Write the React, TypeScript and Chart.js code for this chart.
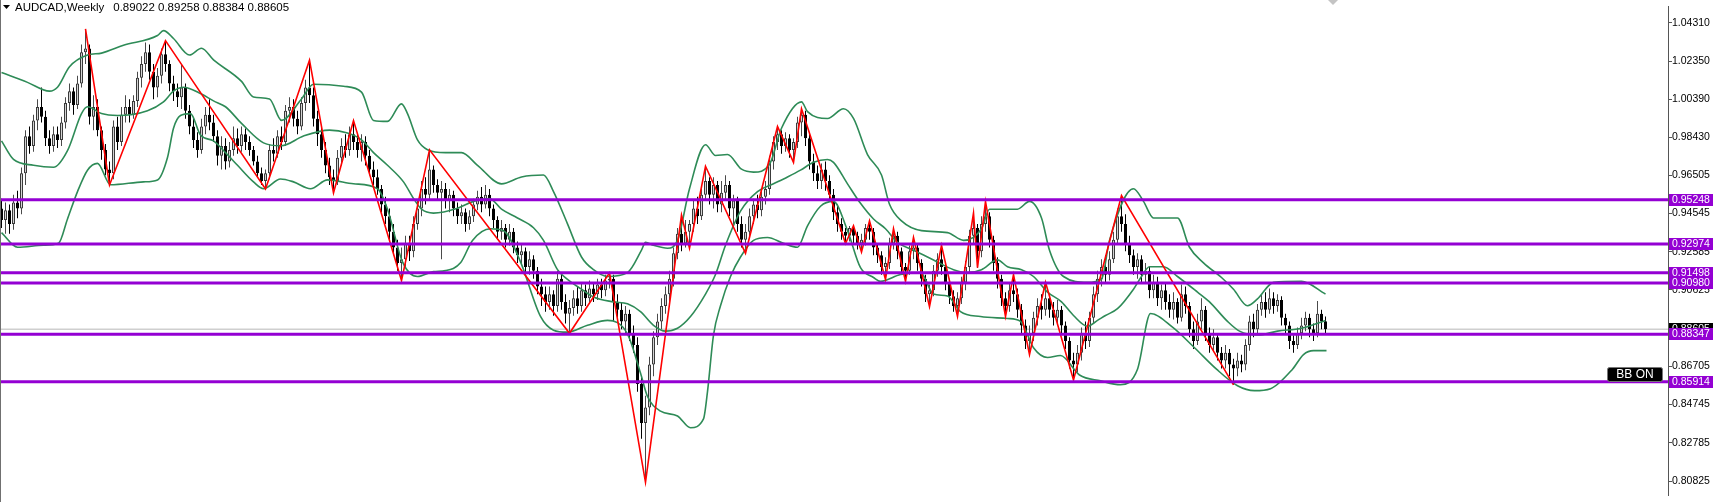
import React, { useEffect, useRef } from "react";
import { Chart, registerables } from "chart.js";
Chart.register(...registerables);

// ---- weekly candles (index 0 = oldest visible week) ----
const opens = [
  0.948,0.942,0.947,0.940,0.951,0.948,0.966,0.985,0.980,0.993,
  1.000,0.995,0.984,0.980,0.986,0.983,0.992,1.002,1.008,1.001,
  1.012,1.028,1.030,0.995,1.000,0.988,0.978,0.968,0.966,0.990,
  0.982,0.996,1.000,0.996,1.003,1.015,1.022,1.028,1.018,1.010,
  1.016,1.027,1.022,1.012,1.008,1.005,1.010,0.998,0.990,0.983,
  0.978,0.990,0.996,0.992,0.985,0.975,0.980,0.972,0.978,0.984,
  0.980,0.986,0.982,0.978,0.972,0.966,0.962,0.966,0.978,0.976,
  0.985,0.982,0.998,1.000,0.994,0.990,1.002,1.010,1.006,0.994,
  0.986,0.978,0.970,0.964,0.962,0.974,0.980,0.978,0.986,0.982,
  0.978,0.982,0.975,0.968,0.964,0.958,0.950,0.944,0.936,0.928,
  0.920,0.922,0.930,0.926,0.940,0.948,0.958,0.955,0.968,0.960,
  0.956,0.958,0.952,0.955,0.948,0.944,0.946,0.940,0.944,0.950,
  0.954,0.950,0.955,0.948,0.942,0.936,0.938,0.932,0.936,0.928,
  0.924,0.926,0.918,0.922,0.916,0.908,0.904,0.900,0.904,0.898,
  0.912,0.900,0.894,0.897,0.902,0.898,0.906,0.902,0.907,0.904,
  0.909,0.906,0.911,0.912,0.900,0.896,0.890,0.894,0.884,0.878,
  0.858,0.838,0.846,0.868,0.882,0.890,0.898,0.904,0.912,0.925,
  0.935,0.930,0.936,0.940,0.948,0.944,0.955,0.962,0.955,0.960,
  0.950,0.956,0.960,0.948,0.952,0.940,0.932,0.936,0.944,0.950,
  0.947,0.954,0.958,0.972,0.982,0.986,0.980,0.984,0.978,0.982,
  0.992,0.996,0.984,0.972,0.966,0.962,0.968,0.962,0.955,0.946,
  0.940,0.936,0.934,0.938,0.934,0.930,0.932,0.938,0.936,0.928,
  0.924,0.918,0.920,0.930,0.934,0.926,0.918,0.916,0.926,0.928,
  0.920,0.912,0.904,0.906,0.916,0.922,0.918,0.910,0.903,0.898,
  0.902,0.910,0.918,0.934,0.938,0.926,0.940,0.944,0.932,0.920,
  0.912,0.902,0.898,0.906,0.904,0.896,0.888,0.880,0.884,0.892,
  0.898,0.896,0.902,0.896,0.892,0.896,0.888,0.880,0.870,0.868,
  0.874,0.884,0.880,0.892,0.904,0.912,0.918,0.914,0.922,0.932,
  0.944,0.940,0.930,0.924,0.918,0.922,0.914,0.916,0.906,0.910,
  0.902,0.906,0.900,0.896,0.900,0.892,0.904,0.898,0.886,0.880,
  0.890,0.896,0.884,0.878,0.882,0.874,0.870,0.874,0.868,0.866,
  0.870,0.868,0.878,0.890,0.886,0.896,0.900,0.896,0.902,0.898,
  0.901,0.892,0.888,0.880,0.878,0.884,0.888,0.892,0.886,0.884,
  0.894,0.89022,
];
const highs = [
  0.953,0.951,0.950,0.955,0.957,0.969,0.988,0.990,0.996,1.004,
  1.010,0.998,0.988,0.990,0.990,0.995,1.005,1.012,1.010,1.016,
  1.032,1.040,1.032,1.006,1.004,0.990,0.981,0.972,0.993,0.995,
  1.000,1.006,1.004,1.006,1.018,1.026,1.033,1.032,1.022,1.020,
  1.030,1.034,1.024,1.016,1.012,1.022,1.012,1.001,0.994,0.987,
  0.994,1.000,1.004,0.996,0.988,0.985,0.984,0.982,0.990,0.989,
  0.990,0.989,0.985,0.980,0.975,0.969,0.968,0.981,0.984,0.988,
  0.990,1.001,1.005,1.004,0.998,1.005,1.014,1.024,1.010,0.998,
  0.990,0.982,0.974,0.968,0.978,0.984,0.986,0.990,0.993,0.986,
  0.986,0.985,0.978,0.972,0.968,0.960,0.954,0.948,0.940,0.932,
  0.928,0.934,0.934,0.944,0.952,0.962,0.964,0.978,0.970,0.963,
  0.962,0.961,0.958,0.957,0.951,0.950,0.948,0.947,0.953,0.957,
  0.959,0.960,0.958,0.950,0.944,0.942,0.940,0.940,0.938,0.931,
  0.930,0.928,0.926,0.924,0.918,0.912,0.908,0.908,0.906,0.916,
  0.914,0.904,0.901,0.906,0.908,0.910,0.909,0.911,0.910,0.912,
  0.912,0.914,0.915,0.914,0.904,0.900,0.898,0.896,0.888,0.882,
  0.862,0.852,0.872,0.885,0.894,0.902,0.908,0.916,0.928,0.938,
  0.9446,0.942,0.942,0.952,0.954,0.958,0.9696,0.964,0.964,0.962,
  0.962,0.965,0.962,0.955,0.954,0.944,0.940,0.948,0.953,0.955,
  0.958,0.962,0.975,0.985,0.990,0.988,0.987,0.986,0.984,0.995,
  0.9991,0.998,0.987,0.976,0.970,0.971,0.972,0.965,0.958,0.950,
  0.943,0.938,0.939,0.9391,0.936,0.935,0.940,0.9416,0.938,0.930,
  0.926,0.923,0.933,0.9376,0.936,0.928,0.920,0.929,0.9331,0.930,
  0.922,0.914,0.909,0.919,0.925,0.9291,0.920,0.912,0.906,0.905,
  0.913,0.921,0.937,0.9456,0.940,0.944,0.9516,0.946,0.934,0.923,
  0.914,0.905,0.910,0.9141,0.907,0.899,0.891,0.888,0.895,0.902,
  0.904,0.9101,0.904,0.900,0.901,0.898,0.890,0.882,0.874,0.878,
  0.887,0.890,0.895,0.908,0.916,0.922,0.924,0.926,0.936,0.948,
  0.9546,0.945,0.934,0.927,0.925,0.924,0.920,0.918,0.914,0.913,
  0.909,0.910,0.904,0.905,0.902,0.909,0.908,0.900,0.890,0.894,
  0.902,0.898,0.887,0.886,0.884,0.877,0.878,0.876,0.871,0.874,
  0.873,0.881,0.893,0.894,0.899,0.904,0.905,0.907,0.905,0.904,
  0.903,0.894,0.890,0.883,0.887,0.892,0.895,0.894,0.889,0.9005,
  0.896,0.89258,
];
const lows = [
  0.938,0.935,0.935,0.937,0.943,0.945,0.960,0.976,0.977,0.988,
  0.992,0.980,0.976,0.977,0.979,0.980,0.989,0.998,0.996,0.999,
  1.010,1.022,0.991,0.988,0.985,0.973,0.965,0.960,0.963,0.978,
  0.980,0.992,0.992,0.994,1.000,1.010,1.018,1.014,1.004,1.005,
  1.012,1.018,1.008,1.003,1.000,0.999,0.994,0.986,0.979,0.974,
  0.976,0.986,0.988,0.982,0.970,0.968,0.968,0.969,0.975,0.976,
  0.977,0.978,0.975,0.970,0.964,0.960,0.958,0.963,0.972,0.974,
  0.978,0.980,0.992,0.990,0.986,0.988,0.998,1.002,0.990,0.980,
  0.974,0.966,0.960,0.956,0.960,0.970,0.974,0.975,0.978,0.974,
  0.972,0.970,0.965,0.960,0.955,0.946,0.940,0.932,0.924,0.916,
  0.911,0.918,0.921,0.923,0.937,0.944,0.950,0.952,0.956,0.952,
  0.922,0.948,0.946,0.944,0.940,0.940,0.936,0.937,0.941,0.947,
  0.946,0.948,0.944,0.938,0.932,0.932,0.928,0.929,0.925,0.920,
  0.919,0.914,0.914,0.912,0.904,0.898,0.895,0.896,0.893,0.895,
  0.896,0.889,0.884,0.893,0.894,0.895,0.898,0.899,0.900,0.901,
  0.902,0.903,0.907,0.890,0.892,0.886,0.884,0.880,0.874,0.854,
  0.830,0.8076,0.842,0.862,0.878,0.886,0.894,0.900,0.908,0.922,
  0.926,0.928,0.9276,0.936,0.940,0.942,0.952,0.950,0.948,0.946,
  0.946,0.952,0.944,0.940,0.936,0.928,0.925,0.933,0.940,0.943,
  0.944,0.950,0.955,0.968,0.978,0.976,0.977,0.974,0.9716,0.979,
  0.985,0.980,0.968,0.962,0.958,0.958,0.957,0.952,0.942,0.936,
  0.932,0.930,0.931,0.930,0.927,0.9256,0.929,0.932,0.924,0.920,
  0.914,0.9116,0.917,0.927,0.922,0.914,0.9106,0.914,0.922,0.916,
  0.908,0.900,0.8976,0.903,0.913,0.914,0.906,0.899,0.895,0.8926,
  0.899,0.906,0.915,0.930,0.9176,0.923,0.936,0.928,0.916,0.907,
  0.898,0.8926,0.895,0.900,0.892,0.884,0.876,0.8731,0.880,0.888,
  0.891,0.893,0.892,0.888,0.889,0.884,0.876,0.866,0.8601,0.864,
  0.870,0.876,0.877,0.889,0.900,0.908,0.910,0.911,0.920,0.930,
  0.936,0.926,0.920,0.914,0.912,0.910,0.910,0.902,0.902,0.898,
  0.896,0.896,0.892,0.891,0.889,0.890,0.894,0.882,0.876,0.878,
  0.886,0.880,0.874,0.875,0.870,0.866,0.866,0.862,0.8576,0.862,
  0.864,0.865,0.875,0.882,0.884,0.893,0.892,0.894,0.894,0.895,
  0.888,0.884,0.876,0.874,0.876,0.881,0.885,0.882,0.880,0.882,
  0.886,0.88384,
];
const closes = [
  0.942,0.947,0.940,0.951,0.948,0.966,0.985,0.980,0.993,1.000,
  0.995,0.984,0.980,0.986,0.983,0.992,1.002,1.008,1.001,1.012,
  1.028,1.030,0.995,1.000,0.988,0.978,0.968,0.966,0.990,0.982,
  0.996,1.000,0.996,1.003,1.015,1.022,1.028,1.018,1.010,1.016,
  1.027,1.022,1.012,1.008,1.005,1.010,0.998,0.990,0.983,0.978,
  0.990,0.996,0.992,0.985,0.975,0.980,0.972,0.978,0.984,0.980,
  0.986,0.982,0.978,0.972,0.966,0.962,0.966,0.978,0.976,0.985,
  0.982,0.998,1.000,0.994,0.990,1.002,1.010,1.006,0.994,0.986,
  0.978,0.970,0.964,0.962,0.974,0.980,0.978,0.986,0.982,0.978,
  0.982,0.975,0.968,0.964,0.958,0.950,0.944,0.936,0.928,0.920,
  0.922,0.930,0.926,0.940,0.948,0.958,0.955,0.968,0.960,0.956,
  0.958,0.952,0.955,0.948,0.944,0.946,0.940,0.944,0.950,0.954,
  0.950,0.955,0.948,0.942,0.936,0.938,0.932,0.936,0.928,0.924,
  0.926,0.918,0.922,0.916,0.908,0.904,0.900,0.904,0.898,0.912,
  0.900,0.894,0.897,0.902,0.898,0.906,0.902,0.907,0.904,0.909,
  0.906,0.911,0.912,0.900,0.896,0.890,0.894,0.884,0.878,0.858,
  0.838,0.846,0.868,0.882,0.890,0.898,0.904,0.912,0.925,0.935,
  0.930,0.936,0.940,0.948,0.944,0.955,0.962,0.955,0.960,0.950,
  0.956,0.960,0.948,0.952,0.940,0.932,0.936,0.944,0.950,0.947,
  0.954,0.958,0.972,0.982,0.986,0.980,0.984,0.978,0.982,0.992,
  0.996,0.984,0.972,0.966,0.962,0.968,0.962,0.955,0.946,0.940,
  0.936,0.934,0.938,0.934,0.930,0.932,0.938,0.936,0.928,0.924,
  0.918,0.920,0.930,0.934,0.926,0.918,0.916,0.926,0.928,0.920,
  0.912,0.904,0.906,0.916,0.922,0.918,0.910,0.903,0.898,0.902,
  0.910,0.918,0.934,0.938,0.926,0.940,0.944,0.932,0.920,0.912,
  0.902,0.898,0.906,0.904,0.896,0.888,0.880,0.884,0.892,0.898,
  0.896,0.902,0.896,0.892,0.896,0.888,0.880,0.870,0.868,0.874,
  0.884,0.880,0.892,0.904,0.912,0.918,0.914,0.922,0.932,0.944,
  0.940,0.930,0.924,0.918,0.922,0.914,0.916,0.906,0.910,0.902,
  0.906,0.900,0.896,0.900,0.892,0.904,0.898,0.886,0.880,0.890,
  0.896,0.884,0.878,0.882,0.874,0.870,0.874,0.868,0.866,0.870,
  0.868,0.878,0.890,0.886,0.896,0.900,0.896,0.902,0.898,0.901,
  0.892,0.888,0.880,0.878,0.884,0.888,0.892,0.886,0.884,0.894,
  0.890,0.88605,
];

// ---- Bollinger bands (read at sample weeks) ----
const upperIdx = [0,6.5,12,14,17,21.5,25,30.5,39,40.5,43,47,50,53,60,63,67,70,75,78,85.5,90,93,96.5,100,101.5,104,106.5,111,115,119,125,130,135.5,138,141.5,145,148,151.5,156.5,160,161,163,166.5,169,172,176,178.5,181.5,185,188,192,195,200,201.5,206.5,210.5,213,216.5,220,222,225,230,236.5,240.5,245,247,254,257,260,262,265.5,271.5,275,277,283,285.5,288,294,297,300.5,305,308,311.5,314,318,325,331];
const upperVal = [1.0176,1.0126,1.0081,1.0101,1.0206,1.0266,1.0276,1.0316,1.0366,1.0391,1.0351,1.0266,1.0301,1.0241,1.0131,1.0051,1.0041,0.9931,1.0041,1.0116,1.0106,1.0076,0.9931,0.9926,1.0016,0.9966,0.9831,0.9781,0.9766,0.9766,0.9701,0.9606,0.9641,0.9651,0.9566,0.9401,0.9231,0.9166,0.9131,0.9151,0.9266,0.9306,0.9291,0.9276,0.9316,0.9581,0.9806,0.9751,0.9756,0.9681,0.9666,0.9706,0.9891,1.0026,0.9976,0.9941,0.9991,0.9941,0.9756,0.9651,0.9501,0.9416,0.9366,0.9356,0.9316,0.9376,0.9476,0.9476,0.9516,0.9431,0.9266,0.9131,0.9101,0.9116,0.9316,0.9581,0.9516,0.9431,0.9431,0.9281,0.9201,0.9126,0.9066,0.8981,0.9016,0.9101,0.9106,0.9041];
const middleIdx = [0,3,8,13,16.5,20,21.5,25,29,36.5,40.5,43,45.5,50,53,56,60,65.5,70,75.5,82,86.5,90,93,96.5,100.5,103,105,108,114,118,122,125,129,133,135.5,139,141.5,145,148,153,156.5,159.75,163,166,169,172.25,176,178.5,181,184.75,189,193,196.5,199.75,203,206.5,208,211.5,214.75,218,221,224,228,233,238,241.5,245,249,251.5,255,258,261.5,265,268,271.5,274,276,279,283,285,287,290.5,294,299,302,306.5,309.5,314,319,325,331];
const middleVal = [0.9826,0.9731,0.9701,0.9691,0.9776,0.9966,1.0001,0.9966,0.9956,0.9981,1.0026,1.0081,1.0101,1.0066,1.0031,1.0001,0.9916,0.9816,0.9801,0.9851,0.9881,0.9866,0.9831,0.9766,0.9701,0.9616,0.9531,0.9476,0.9456,0.9481,0.9516,0.9531,0.9476,0.9431,0.9381,0.9316,0.9166,0.9116,0.9066,0.9026,0.9001,0.8991,0.8951,0.8881,0.8851,0.8866,0.8926,0.9041,0.9141,0.9291,0.9466,0.9566,0.9606,0.9641,0.9676,0.9716,0.9731,0.9716,0.9606,0.9506,0.9426,0.9376,0.9306,0.9266,0.9216,0.9166,0.9151,0.9166,0.9216,0.9181,0.9166,0.9131,0.9051,0.9001,0.8931,0.8876,0.8906,0.8931,0.8966,0.9066,0.9131,0.9181,0.9181,0.9131,0.9051,0.9001,0.8901,0.8851,0.8831,0.8851,0.8866,0.8906];
const lowerIdx = [0,4,10.5,14.25,16.5,19,21.5,24,27.25,35.5,39,41.5,43,44.75,47.25,49.75,53,56,59,63,65.5,69.75,73,77.25,81.5,88,94,96.5,100.25,104,108,111,114.75,117.75,122.25,125.5,129.75,134.75,138,141.5,146.5,151.5,156.5,159.75,161.5,164.75,169,172.25,175.5,176.5,178,179.75,182.25,184.75,188,191.5,195.5,199,201.5,204.75,208,211.5,214.75,218,219.75,224.75,229.75,233,236.5,239.75,244.75,251.5,254.75,258,261.5,264.75,269.5,274.75,279.75,284,287.25,292.75,298.25,303.75,309,313.25,317.25,322.75,325.5,328,331.25];
const lowerVal = [0.9356,0.9281,0.9291,0.9301,0.9426,0.9566,0.9676,0.9711,0.9601,0.9616,0.9626,0.9741,0.9891,0.9956,0.9966,0.9856,0.9826,0.9766,0.9701,0.9616,0.9581,0.9631,0.9616,0.9581,0.9626,0.9606,0.9581,0.9476,0.9206,0.9131,0.9156,0.9161,0.9201,0.9316,0.9376,0.9366,0.9206,0.8926,0.8856,0.8846,0.8881,0.8906,0.8836,0.8636,0.8516,0.8441,0.8416,0.8356,0.8401,0.8541,0.8831,0.8981,0.9131,0.9231,0.9316,0.9331,0.9301,0.9281,0.9391,0.9491,0.9516,0.9366,0.9176,0.9126,0.9106,0.9141,0.9151,0.9041,0.9031,0.8951,0.8926,0.8916,0.8901,0.8766,0.8716,0.8726,0.8626,0.8596,0.8576,0.8656,0.8941,0.8871,0.8766,0.8656,0.8571,0.8546,0.8556,0.8656,0.8731,0.8751,0.8751];

// ---- ZigZag pivots ----
const zigIdx = [21,27,41,66,77,83,88,100,107,142,152,161,170,172,176,186,194,198,200,211,213,215,217,221,223,226,228,232,235,239,243,244,246,251,253,257,261,268,280,308];
const zigVal = [1.040,0.960,1.034,0.958,1.024,0.956,0.993,0.911,0.978,0.884,0.915,0.8076,0.9446,0.9276,0.9696,0.925,0.990,0.9716,0.9991,0.930,0.9391,0.9256,0.9416,0.9116,0.9376,0.9106,0.9331,0.8976,0.9291,0.8926,0.9456,0.9176,0.9516,0.8926,0.9141,0.8731,0.9101,0.8601,0.9546,0.8576];

// ---- horizontal levels, price axis ----
const levels = [0.95248, 0.92974, 0.91498, 0.90980, 0.88347, 0.85914];
const currentPrice = 0.88605;
const axisTicks = [1.0431, 1.0235, 1.0039, 0.9843, 0.96505, 0.94545, 0.92585, 0.90625, 0.86705, 0.84745, 0.82785, 0.80825];
const symbolText = "AUDCAD,Weekly";
const ohlcText = "0.89022 0.89258 0.88384 0.88605";
const badgeText = "BB ON";

const X_MIN = -0.375;
const X_MAX = 416.625;
const Y_MIN = 0.80075;
const Y_MAX = 1.05159;
const FONT = '"Liberation Sans", Arial, sans-serif';
const VIOLET = "#9400D3";
const BAND = "#2E8B57";

export default function App() {
  const ref = useRef<HTMLCanvasElement | null>(null);

  useEffect(() => {
    const canvas = ref.current;
    if (!canvas) return;
    const idx = closes.map((_, i) => i);
    const wickData = idx.map((i) => ({ x: i, y: [lows[i], highs[i]] }));
    const bodyData = idx.map((i) => ({ x: i, y: [opens[i], closes[i]] }));
    const pts = (xs: number[], ys: number[]) => xs.map((x, k) => ({ x, y: ys[k] }));

    const overlay = {
      id: "overlay",
      afterDraw(chart: any) {
        const ctx = chart.ctx as CanvasRenderingContext2D;
        const ys = chart.scales.y;
        const right = chart.chartArea.right;
        ctx.save();
        // left frame
        ctx.fillStyle = "#707070";
        ctx.fillRect(0, 0, 1, chart.height);
        // title
        ctx.fillStyle = "#000";
        ctx.beginPath();
        ctx.moveTo(3, 5);
        ctx.lineTo(10, 5);
        ctx.lineTo(6.5, 9);
        ctx.closePath();
        ctx.fill();
        ctx.font = `11.5px ${FONT}`;
        ctx.textBaseline = "middle";
        ctx.textAlign = "left";
        ctx.fillText(symbolText, 15, 7.5);
        const w = ctx.measureText(symbolText).width;
        ctx.fillText(ohlcText, 15 + w + 9, 7.5);
        // small gray marker at top
        ctx.fillStyle = "#c4c4c4";
        ctx.beginPath();
        ctx.moveTo(1328, 0);
        ctx.lineTo(1338, 0);
        ctx.lineTo(1333, 5);
        ctx.closePath();
        ctx.fill();
        // price labels
        const box = (v: number, color: string) => {
          const py = Math.round(ys.getPixelForValue(v));
          ctx.fillStyle = color;
          ctx.fillRect(right + 1, py - 6, 44, 12);
          ctx.fillStyle = "#fff";
          ctx.font = `10.5px ${FONT}`;
          ctx.textAlign = "left";
          ctx.fillText(v.toFixed(5), right + 4, py + 0.5);
        };
        box(currentPrice, "#000");
        levels.forEach((v) => box(v, VIOLET));
        // BB ON badge
        ctx.fillStyle = "#000";
        ctx.strokeStyle = "#777";
        ctx.lineWidth = 1;
        ctx.beginPath();
        ctx.roundRect(1607.5, 367.5, 55, 14, 2);
        ctx.fill();
        ctx.stroke();
        ctx.fillStyle = "#fff";
        ctx.font = `12px ${FONT}`;
        ctx.textAlign = "center";
        ctx.fillText(badgeText, 1635, 375);
        ctx.restore();
      },
    };

    const chart = new Chart(canvas, {
      type: "bar",
      data: {
        datasets: [
          ...levels.map((v) => ({
            type: "line" as const,
            data: [{ x: X_MIN, y: v }, { x: X_MAX, y: v }],
            borderColor: VIOLET,
            borderWidth: 3,
            pointRadius: 0,
            order: 0,
          })),
          {
            type: "line" as const,
            data: [{ x: X_MIN, y: currentPrice }, { x: X_MAX, y: currentPrice }],
            borderColor: "#cfcfcf",
            borderWidth: 1.5,
            pointRadius: 0,
            order: 9,
          },
          {
            type: "line" as const,
            data: pts(zigIdx, zigVal),
            borderColor: "#ff0000",
            borderWidth: 1.6,
            pointRadius: 0,
            order: 1,
          },
          ...[
            [upperIdx, upperVal],
            [middleIdx, middleVal],
            [lowerIdx, lowerVal],
          ].map(([xs, ys]) => ({
            type: "line" as const,
            data: pts(xs, ys),
            borderColor: BAND,
            borderWidth: 1.6,
            pointRadius: 0,
            cubicInterpolationMode: "monotone" as const,
            order: 2,
          })),
          {
            type: "bar" as const,
            data: bodyData as any,
            barThickness: 3,
            grouped: false,
            borderSkipped: false,
            inflateAmount: 0,
            borderWidth: 1,
            borderColor: (c: any) => (closes[c.dataIndex] >= opens[c.dataIndex] ? "#3a3a3a" : "#000"),
            backgroundColor: (c: any) => (closes[c.dataIndex] >= opens[c.dataIndex] ? "#d4d4d4" : "#000"),
            order: 3,
          },
          {
            type: "bar" as const,
            data: wickData as any,
            barThickness: 1,
            grouped: false,
            inflateAmount: 0,
            borderWidth: 0,
            backgroundColor: (c: any) => (closes[c.dataIndex] >= opens[c.dataIndex] ? "#4a4a4a" : "#000"),
            order: 4,
          },
        ],
      },
      options: {
        responsive: false,
        animation: false,
        events: [],
        layout: { padding: 0 },
        plugins: { legend: { display: false }, tooltip: { enabled: false } },
        scales: {
          x: { type: "linear", display: false, offset: false, min: X_MIN, max: X_MAX },
          y: {
            position: "right",
            min: Y_MIN,
            max: Y_MAX,
            afterFit: (s: any) => { s.width = 49; },
            afterBuildTicks: (s: any) => { s.ticks = axisTicks.map((v) => ({ value: v })); },
            border: { display: true, color: "#555", width: 1 },
            grid: { drawOnChartArea: false, drawTicks: true, tickLength: 4, color: "#555" },
            ticks: {
              autoSkip: false,
              padding: 0,
              color: "#000",
              font: { family: FONT, size: 10.5 },
              callback: (v: any) => Number(v).toFixed(5),
            },
          },
        },
      } as any,
      plugins: [overlay],
    });
    return () => chart.destroy();
  }, []);

  return (
    <div style={{ position: "fixed", left: 0, top: 0, width: 1717, height: 502, background: "#fff" }}>
      <canvas ref={ref} width={1717} height={502} style={{ display: "block", width: 1717, height: 502 }} />
    </div>
  );
}
